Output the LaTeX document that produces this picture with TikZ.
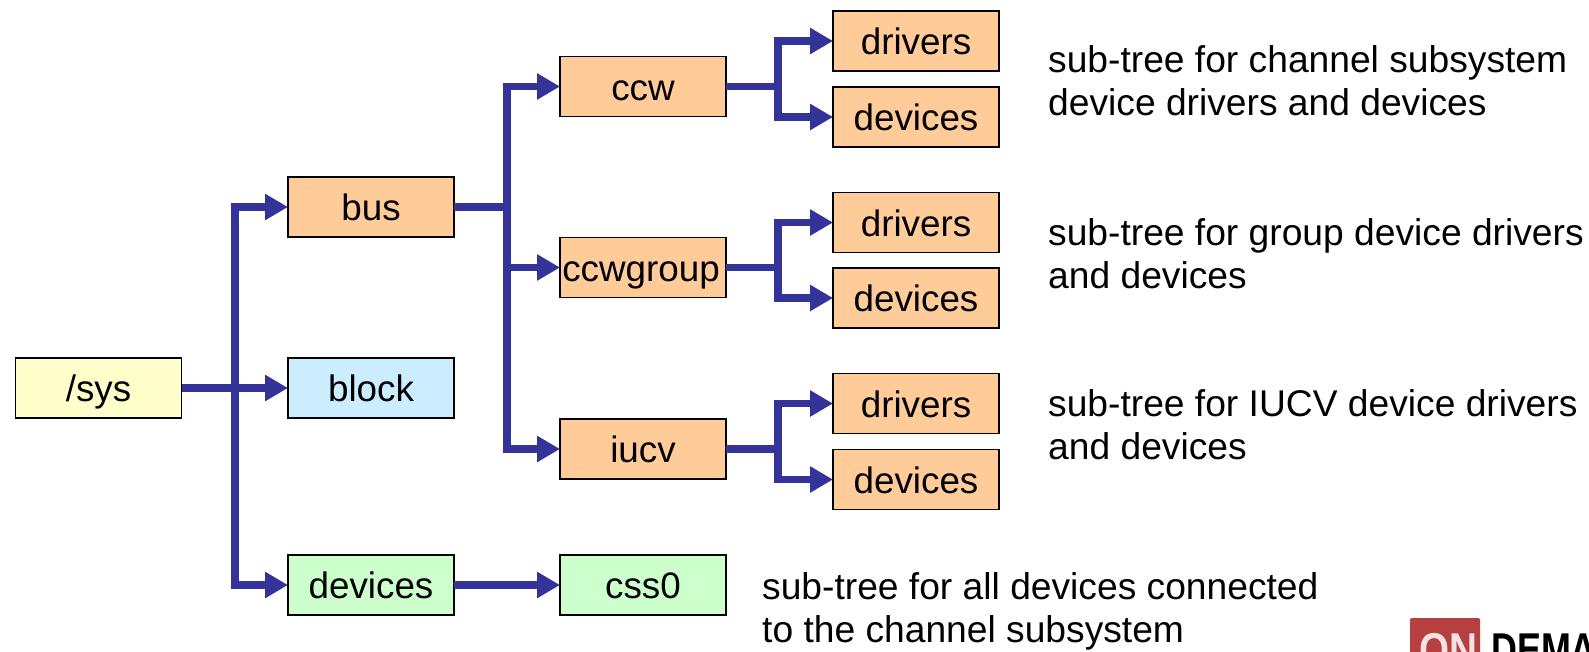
\documentclass[tikz,border=0pt]{standalone}
\usepackage{fontspec}
\setmainfont{Liberation Sans}
\usetikzlibrary{arrows.meta}
\definecolor{cOrange}{HTML}{FFCC99}
\definecolor{cYellow}{HTML}{FFFFCC}
\definecolor{cBlue}{HTML}{CCECFF}
\definecolor{cGreen}{HTML}{CCFFCC}
\definecolor{cLine}{HTML}{333399}
\definecolor{cRed}{HTML}{B5403F}
\tikzset{
  fbox/.style={draw=black,line width=1.6pt,minimum width=166pt,minimum height=60pt,inner sep=0pt,outer sep=0pt,
    text height=32pt,text depth=5pt,font=\fontsize{36.8}{43}\selectfont},
  conn/.style={draw=cLine,line width=7.6pt,-{Triangle[length=23pt,width=25pt]}},
  plain/.style={draw=cLine,line width=7.6pt},
  note/.style={anchor=west,align=left,inner sep=0pt,font=\fontsize{37.2}{43}\selectfont},
}
\begin{document}
\begin{tikzpicture}[x=1pt,y=-1pt]
\useasboundingbox (0,0) rectangle (1589,651);
\clip (0,0) rectangle (1589,651);
\node[fbox,fill=cYellow] (sys) at (98.5,388) {/sys};
\node[fbox,fill=cOrange] (bus) at (371,207) {bus};
\node[fbox,fill=cBlue] (block) at (371,388) {block};
\node[fbox,fill=cGreen] (devs) at (371,585) {devices};
\node[fbox,fill=cOrange] (ccw) at (643,86.5) {ccw};
\node[fbox,fill=cOrange] (grp) at (643,267.5) {\hspace{-4pt}ccwgroup};
\node[fbox,fill=cOrange] (iucv) at (643,449) {iucv};
\node[fbox,fill=cGreen] (css) at (643,585) {css0};
\node[fbox,fill=cOrange] (d1) at (916,41) {drivers};
\node[fbox,fill=cOrange] (e1) at (916,117) {devices};
\node[fbox,fill=cOrange] (d2) at (916,222.5) {drivers};
\node[fbox,fill=cOrange] (e2) at (916,298) {devices};
\node[fbox,fill=cOrange] (d3) at (916,403.5) {drivers};
\node[fbox,fill=cOrange] (e3) at (916,479.5) {devices};
\coordinate (js) at (235,388);
\coordinate (jb) at (507,207);
\coordinate (j1) at (778,86.5);
\coordinate (j2) at (778,267.5);
\coordinate (j3) at (778,449);
\draw[plain] (sys.east) -- (js);
\draw[conn] (js) -- (block.west);
\draw[conn] (js) |- (bus.west);
\draw[conn] (js) |- (devs.west);
\draw[conn] (devs.east) -- (css.west);
\draw[plain] (bus.east) -- (jb);
\draw[conn] (jb) |- (ccw.west);
\draw[conn] (jb) |- (grp.west);
\draw[conn] (jb) |- (iucv.west);
\draw[plain] (ccw.east) -- (j1);
\draw[conn] (j1) |- (d1.west);
\draw[conn] (j1) |- (e1.west);
\draw[plain] (grp.east) -- (j2);
\draw[conn] (j2) |- (d2.west);
\draw[conn] (j2) |- (e2.west);
\draw[plain] (iucv.east) -- (j3);
\draw[conn] (j3) |- (d3.west);
\draw[conn] (j3) |- (e3.west);
\node[note] (n1) at (1048,81) {sub-tree for channel subsystem\\device drivers and devices};
\node[note] (n2) at (1048,254) {sub-tree for group device drivers\\and devices};
\node[note] (n3) at (1048,425) {sub-tree for IUCV device drivers\\and devices};
\node[note] (n4) at (762,611) {sub-tree for all devices connected\\to the channel subsystem};
\node[fill=cRed,minimum width=70pt,minimum height=50pt,inner sep=0pt,outer sep=0pt,anchor=north west,rounded corners=2pt] (logo) at (1410,618) {};
\node[anchor=base west,inner sep=0pt,text=white!85!cRed,font=\fontsize{46}{46}\selectfont\bfseries] (on) at (1419,665) {\scalebox{0.84}[1]{ON}};
\node[anchor=base west,inner sep=0pt,text=black,font=\fontsize{46}{46}\selectfont\bfseries] (dem) at (1491,665) {\scalebox{0.78}[1]{DEMA}};
\end{tikzpicture}
\end{document}
